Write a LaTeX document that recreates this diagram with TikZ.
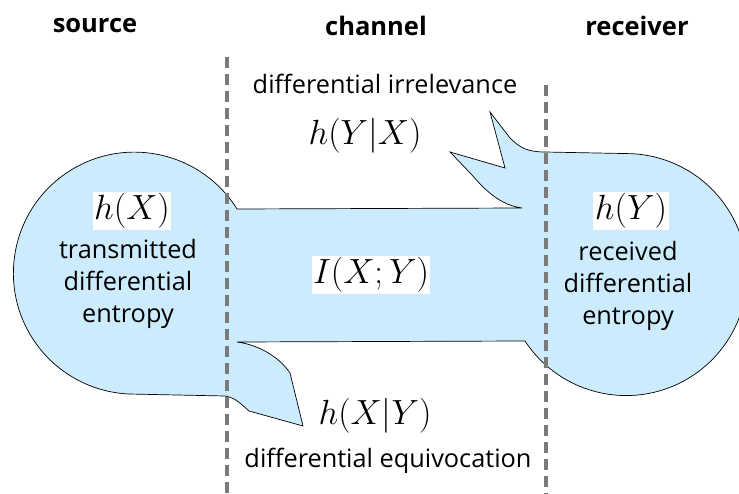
\RequirePackage{fix-cm}
\documentclass[tikz,border=0pt]{standalone}
\usepackage{fontspec}
\setsansfont{Open Sans}
\usetikzlibrary{positioning}
\definecolor{ink}{HTML}{000000}
\definecolor{flowfill}{HTML}{CCEBFC}
\definecolor{divider}{HTML}{7A7A7A}
\tikzset{
  heading/.style={
    font=\sffamily\bfseries\fontsize{25.5}{29}\selectfont,
    text=ink
  },
  caption/.style={
    font=\sffamily\fontsize{25.3}{32}\selectfont,
    text=ink,
    align=center,
    inner sep=0pt
  },
  quantity/.style={
    fill=white,
    inner sep=1.5pt,
    font=\fontsize{35}{40}\selectfont
  },
  boundary/.style={
    draw=divider,
    line width=3.2pt,
    dash pattern=on 11pt off 6pt
  },
  flow/.style={
    draw=black,
    fill=flowfill,
    line width=0.7pt,
    line join=miter
  }
}

\begin{document}
\begin{tikzpicture}[x=1pt,y=-1pt]
  \useasboundingbox (0,0) rectangle (739,494);

  % source blob, channel band and receiver blob as one outline
  \path[flow]
    (237,209) arc[start angle=32,end angle=270,radius=121pt]
    -- (225,396) .. controls (236,398) and (241,404) .. (249,411)
    -- (303,426) -- (290,373)
    .. controls (280,358) and (260,345) .. (237,342)
    -- (525,341) arc[start angle=213.3,end angle=450,radius=121pt]
    -- (545,152) .. controls (528,152) and (520,148) .. (510,138)
    -- (490,112) -- (505,168) -- (450,152) -- (472,175)
    .. controls (485,190) and (500,205) .. (522,208)
    -- cycle;

  \draw[boundary] (227,57) -- (227,494);
  \draw[boundary] (546,85) -- (546,494);

  \node[heading] (source-head) at (95,26) {source};
  \node[heading] (channel-head) at (376,26) {channel};
  \node[heading] (receiver-head) at (637,26) {receiver};

  \node[caption] (irrelevance-label) at (385,84) {differential irrelevance};
  \node[quantity] (irrelevance) at (365,136) {$h(Y|X)$};

  \node[quantity] (source-entropy) at (132,211) {$h(X)$};
  \node[caption] (source-label) at (128,284) {
    transmitted\\differential\\entropy
  };

  \node[quantity] (mutual) at (371,275) {$I(X;Y)$};

  \node[quantity] (receiver-entropy) at (631,211) {$h(Y)$};
  \node[caption] (receiver-label) at (628,286) {
    received\\differential\\entropy
  };

  \node[quantity] (equivocation) at (375,416) {$h(X|Y)$};
  \node[caption] (equivocation-label) at (388,461) {differential equivocation};
\end{tikzpicture}
\end{document}
